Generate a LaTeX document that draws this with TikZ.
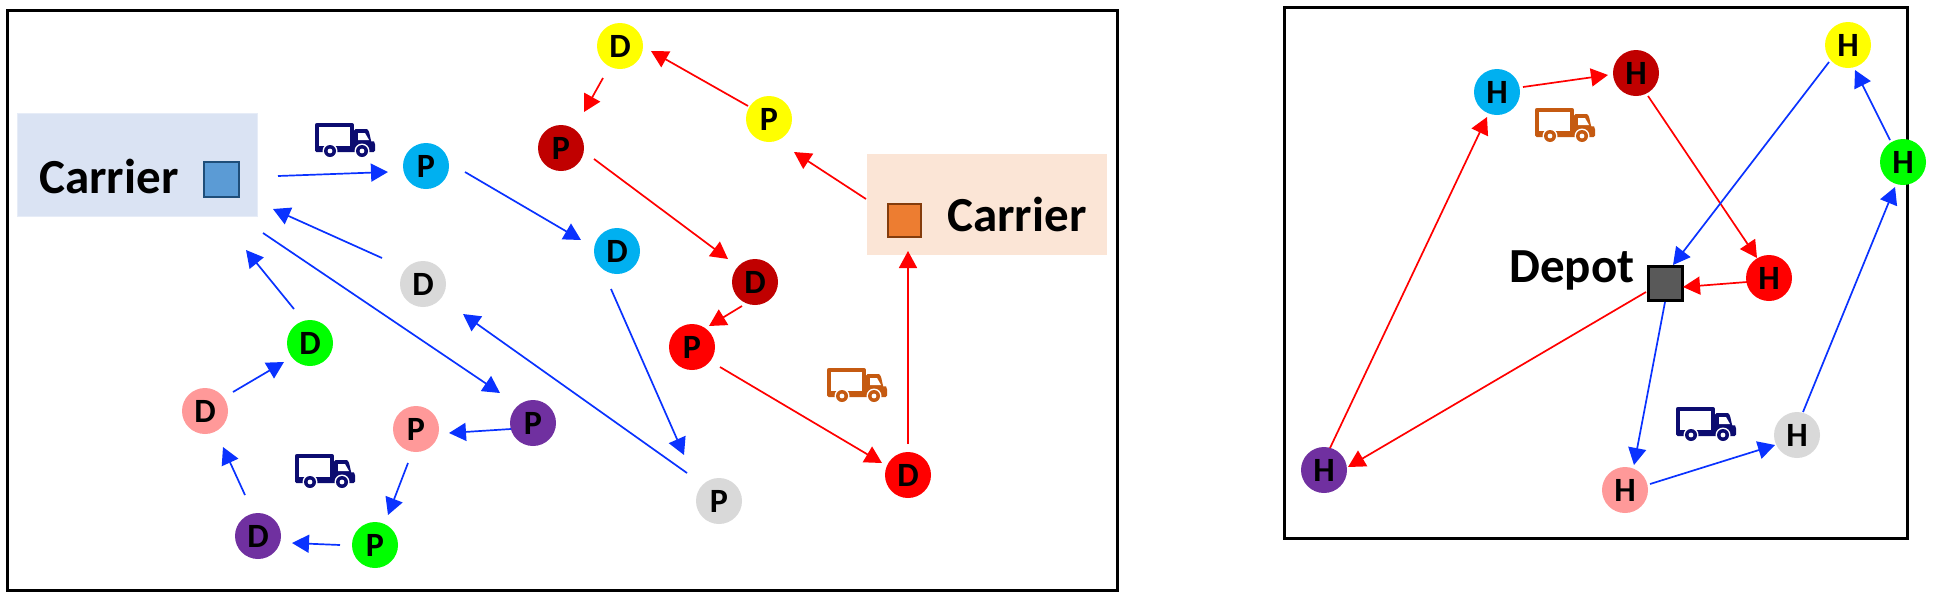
\documentclass[tikz,border=0pt]{standalone}
\usepackage{fontspec}
\setmainfont{Carlito}
\usetikzlibrary{arrows.meta}
\definecolor{cCyan}{HTML}{00B0F0}
\definecolor{cDark}{HTML}{C00000}
\definecolor{cRed}{HTML}{FF0000}
\definecolor{cYellow}{HTML}{FFFF00}
\definecolor{cGray}{HTML}{D9D9D9}
\definecolor{cGreen}{HTML}{00FF00}
\definecolor{cPink}{HTML}{FF9999}
\definecolor{cPurple}{HTML}{7030A0}
\definecolor{lineBlue}{HTML}{0A32FF}
\definecolor{truckBlue}{HTML}{0C0C70}
\definecolor{truckOrange}{HTML}{C55A11}
\tikzset{
  x=1pt, y=-1pt,
  frame/.style={draw=black, line width=3pt},
  stop/.style={circle, minimum size=46pt, inner sep=0pt, font=\fontsize{34}{36}\selectfont\bfseries, text=black},
  carrierbox/.style={rectangle, inner sep=0pt, minimum width=240pt},
  bigtext/.style={inner sep=0pt, font=\fontsize{49}{52}\selectfont\bfseries, text=black},
  arc/.style={line width=1.7pt, -{Triangle[length=17pt,width=18pt]}},
  pics/truck/.style={code={
    \draw[#1, line width=3.5pt, fill=white, line join=round] (1.75,1.75) rectangle (37,25);
    \fill[#1, rounded corners=1.5pt] (39,6) -- (50,6) to[out=0,in=240] (58,17) -- (60,20) -- (60,29) -- (0,29) -- (0,24) -- (39,24) -- cycle;
    \fill[white] (43,10) -- (50,10) -- (54,17) -- (43,17) -- cycle;
    \foreach \wx in {15,47}{
      \fill[white] (\wx,28) circle (7.5);
      \fill[#1] (\wx,28) circle (6);
      \fill[white] (\wx,28) circle (2.4);
    }
  }}
}
% connector between two named nodes, each end given as an offset from the node's centre
\newcommand{\link}[7]{\draw[arc, draw=#1, fill=#1] ([shift={(#3,#4)}]#2.center) -- ([shift={(#6,#7)}]#5.center);}
\begin{document}
\begin{tikzpicture}
\useasboundingbox (0,0) rectangle (1951,598);
\draw[frame] (7,10) rectangle (1117,590);
\draw[frame] (1284,7) rectangle (1907,538);

% carrier boxes
\node[carrierbox, minimum height=103pt, fill={rgb,255:red,218;green,227;blue,243}, draw={rgb,255:red,230;green,236;blue,247}] (cb) at (137,164.5) {};
\node[bigtext] (cbt) at (109,176) {Carrier};
\node[rectangle, minimum size=35pt, inner sep=0pt, fill={rgb,255:red,91;green,155;blue,213}, draw={rgb,255:red,31;green,78;blue,121}, line width=2pt] (cbs) at (221,179) {};
\node[carrierbox, minimum height=101pt, fill={rgb,255:red,251;green,229;blue,214}] (co) at (987,204.5) {};
\node[bigtext] (cot) at (1017,214) {Carrier};
\node[rectangle, minimum size=33pt, inner sep=0pt, fill={rgb,255:red,237;green,125;blue,49}, draw={rgb,255:red,132;green,60;blue,12}, line width=2pt] (cos) at (904.5,220.5) {};

% pickup and delivery stops
\node[stop, fill=cCyan] (pc) at (426,166) {P};
\node[stop, fill=cCyan] (dc) at (617,251) {D};
\node[stop, fill=cYellow] (dy) at (620,46) {D};
\node[stop, fill=cYellow] (py) at (769,119) {P};
\node[stop, fill=cDark] (pdr) at (561,148) {P};
\node[stop, fill=cDark] (ddr) at (755,282) {D};
\node[stop, fill=cRed] (pred) at (692,347) {P};
\node[stop, fill=cRed] (dred) at (908,475) {D};
\node[stop, fill=cGray] (dg) at (423,284) {D};
\node[stop, fill=cGray] (pg) at (719,501) {P};
\node[stop, fill=cGreen] (dgr) at (310,343) {D};
\node[stop, fill=cGreen] (pgr) at (375,545) {P};
\node[stop, fill=cPink] (dp) at (205,411) {D};
\node[stop, fill=cPink] (pp) at (416,429) {P};
\node[stop, fill=cPurple] (ppu) at (533,423) {P};
\node[stop, fill=cPurple] (dpu) at (258,536) {D};

% blue carrier route
\link{lineBlue}{cb}{141}{11.5}{pc}{-38}{6}
\link{lineBlue}{pc}{39}{6}{dc}{-36}{-11}
\link{lineBlue}{dc}{-6}{38}{pg}{-35}{-46}
\link{lineBlue}{pg}{-32}{-28}{dg}{40}{30}
\link{lineBlue}{dg}{-41}{-26}{cb}{136}{44.5}
\link{lineBlue}{cb}{126}{68.5}{ppu}{-33}{-30}
\link{lineBlue}{ppu}{-22}{6}{pp}{33}{4}
\link{lineBlue}{pp}{-8}{34}{pgr}{13}{-30}
\link{lineBlue}{pgr}{-35}{0}{dpu}{34}{7}
\link{lineBlue}{dpu}{-13}{-41}{dp}{18}{36}
\link{lineBlue}{dp}{28}{-19}{dgr}{-26}{19}
\link{lineBlue}{dgr}{-16}{-34}{cb}{109}{85.5}

% red carrier route
\link{cRed}{co}{-121}{-5.5}{py}{25}{33}
\link{cRed}{py}{-21}{-13}{dy}{31}{5}
\link{cRed}{dy}{-17}{32}{pdr}{23}{-36}
\link{cRed}{pdr}{33}{11}{ddr}{-27}{-23}
\link{cRed}{ddr}{-13}{24}{pred}{17}{-21}
\link{cRed}{pred}{28}{20}{dred}{-26}{-12}
\link{cRed}{dred}{0}{-31}{co}{-79}{46.5}

\pic at (315,123) {truck=truckBlue};
\pic at (295,454) {truck=truckBlue};
\pic at (827,368) {truck=truckOrange};

% depot routing panel
\node[bigtext] (dept) at (1572,270) {Depot};
\node[rectangle, minimum size=34pt, inner sep=0pt, fill={rgb,255:red,89;green,89;blue,89}, draw=black, line width=3pt] (dep) at (1665,283) {};
\node[stop, fill=cCyan] (hc) at (1497,92) {H};
\node[stop, fill=cDark] (hdr) at (1636,73) {H};
\node[stop, fill=cYellow] (hy) at (1848,45) {H};
\node[stop, fill=cGreen] (hgr) at (1903,162) {H};
\node[stop, fill=cRed] (hr) at (1769,278) {H};
\node[stop, fill=cGray] (hg) at (1797,435) {H};
\node[stop, fill=cPink] (hp) at (1625,490) {H};
\node[stop, fill=cPurple] (hpu) at (1324,470) {H};

\link{cRed}{hc}{26}{-5}{hdr}{-28}{2}
\link{cRed}{hdr}{12}{23}{hr}{-12}{-20}
\link{cRed}{hr}{-22}{4}{dep}{18}{4}
\link{cRed}{dep}{-19}{9}{hpu}{24}{-3}
\link{cRed}{hpu}{6}{-22}{hc}{-10}{25}
\link{lineBlue}{dep}{0}{19}{hp}{9}{-25}
\link{lineBlue}{hp}{25}{-6}{hg}{-22}{10}
\link{lineBlue}{hg}{6}{-23}{hgr}{-8}{25}
\link{lineBlue}{hgr}{-13}{-22}{hy}{7}{25}
\link{lineBlue}{hy}{-19}{17}{dep}{8}{-18}

\pic at (1535,108) {truck=truckOrange};
\pic at (1676,407) {truck=truckBlue};
\end{tikzpicture}
\end{document}
